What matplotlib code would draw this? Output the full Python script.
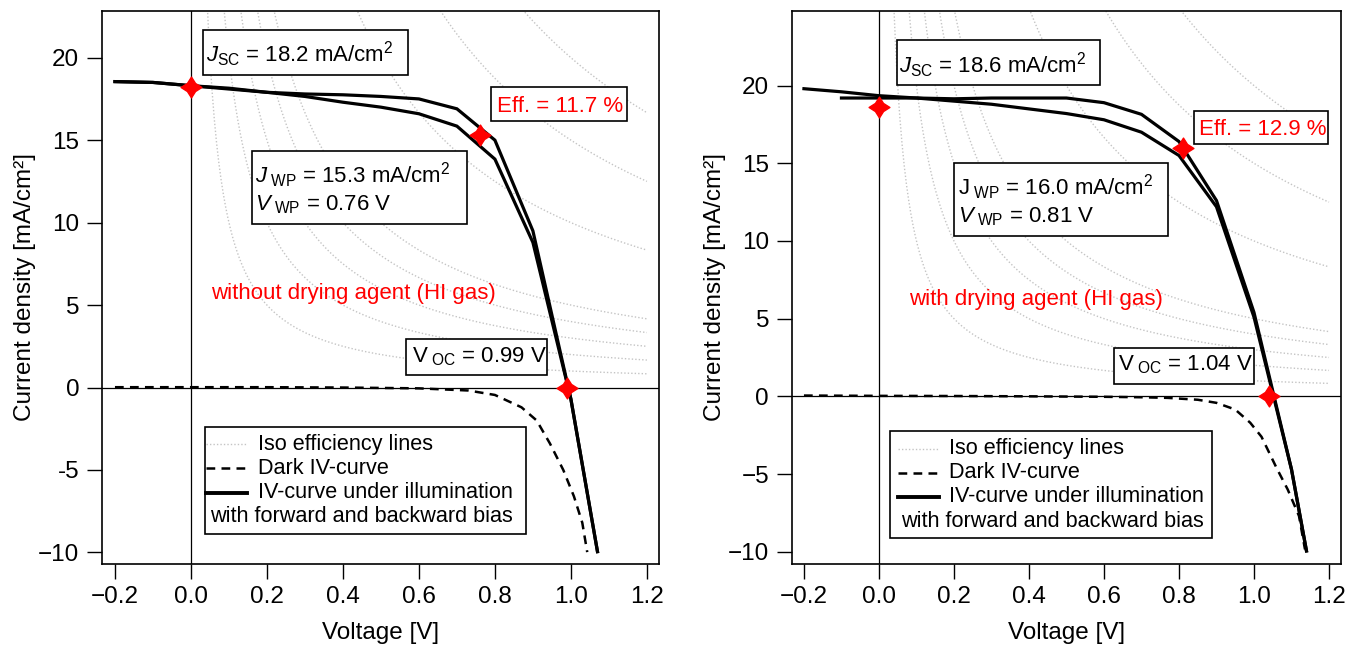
import matplotlib
matplotlib.use('Agg')
import matplotlib.pyplot as plt
from matplotlib.patches import Rectangle
from matplotlib.lines import Line2D
from matplotlib.path import Path
import numpy as np

plt.rcParams['font.family'] = ['Liberation Sans', 'DejaVu Sans']
plt.rcParams['mathtext.fontset'] = 'custom'
plt.rcParams['mathtext.rm'] = 'Liberation Sans'
plt.rcParams['mathtext.it'] = 'Liberation Sans:italic'
plt.rcParams['font.size'] = 16

# ---------------- data ----------------
ISO_EFF = [1, 2, 3, 4, 5, 10, 15, 20]  # iso efficiency levels [%] (P = J*V, 100 mW/cm2)

XTICKS = [-0.2, 0.0, 0.2, 0.4, 0.6, 0.8, 1.0, 1.2]
XTICKLABELS = ['\u22120.2', '0.0', '0.2', '0.4', '0.6', '0.8', '1.0', '1.2']
YTICKS = [-10, -5, 0, 5, 10, 15, 20]
YTICKLABELS_L = ['\u221210', '-5', '0', '5', '10', '15', '20']
YTICKLABELS_R = ['\u221210', '\u22125', '0', '5', '10', '15', '20']

# left: without drying agent
V_L = [-0.2, -0.1, 0.0, 0.1, 0.2, 0.3, 0.4, 0.5, 0.6, 0.7, 0.8, 0.9, 1.0, 1.07]
J_L_FWD = [18.55, 18.5, 18.3, 18.1, 17.9, 17.8, 17.75, 17.65, 17.5, 16.9, 15.0, 9.5, -0.7, -9.95]
J_L_BWD = [18.55, 18.5, 18.3, 18.15, 17.9, 17.65, 17.3, 17.0, 16.6, 15.85, 13.85, 8.8, -0.7, -9.95]
V_L_DARK = [-0.2, 0.0, 0.2, 0.4, 0.6, 0.73, 0.8, 0.87, 0.91, 0.945, 0.98, 1.008, 1.03, 1.043]
J_L_DARK = [0.02, 0.02, 0.02, 0.0, -0.05, -0.18, -0.45, -1.2, -2.0, -3.4, -5.0, -6.6, -8.2, -9.98]
MARK_L_V = [0.0, 0.76, 0.99]
MARK_L_J = [18.2, 15.3, 0.0]

# right: with drying agent
V_R_FWD = [-0.1, 0.0, 0.1, 0.2, 0.3, 0.4, 0.5, 0.6, 0.7, 0.8, 0.9, 1.0, 1.1, 1.14]
J_R_FWD = [19.2, 19.2, 19.2, 19.15, 19.2, 19.2, 19.2, 18.9, 18.15, 16.4, 12.6, 5.4, -4.7, -9.95]
V_R_BWD = [-0.2, -0.1, 0.0, 0.1, 0.2, 0.3, 0.4, 0.5, 0.6, 0.7, 0.8, 0.9, 1.0, 1.1, 1.14]
J_R_BWD = [19.8, 19.6, 19.35, 19.2, 19.0, 18.8, 18.5, 18.2, 17.8, 17.0, 15.5, 12.2, 5.1, -4.7, -9.95]
V_R_DARK = [-0.2, 0.0, 0.2, 0.4, 0.6, 0.7, 0.77, 0.85, 0.9, 0.95, 0.99, 1.02, 1.04, 1.06, 1.09, 1.12, 1.136]
J_R_DARK = [0.05, 0.03, 0.02, 0.0, -0.03, -0.06, -0.1, -0.22, -0.42, -0.85, -1.7, -2.6, -3.6, -4.6, -6.0, -7.7, -9.85]
MARK_R_V = [0.0, 0.81, 1.04]
MARK_R_J = [18.6, 16.0, 0.0]

STAR = Path.unit_regular_star(4, innerCircle=0.55)
ISO_STYLE = dict(color='#c4c4c4', lw=1.0, ls=(0, (1, 1.5)))
DARK_STYLE = dict(color='black', lw=1.8, ls=(0, (3.5, 2.5)))


def box(ax, x0, x1, y0, y1):
    ax.add_patch(Rectangle((x0, y0), x1 - x0, y1 - y0, facecolor='white',
                           edgecolor='black', linewidth=1.2, zorder=5))


def label(ax, x, y, s, color='black'):
    ax.text(x, y, s, color=color, ha='left', va='baseline', fontsize=16, zorder=6)


def legend(ax, bx, by, hx, tx, rows, tx4, y4):
    # hand-built legend: last line sits under the handle column
    box(ax, bx[0], bx[1], by[0], by[1])
    styles = [ISO_STYLE, DARK_STYLE, dict(color='black', lw=2.8, ls='-')]
    names = ['Iso efficiency lines', 'Dark IV-curve', 'IV-curve under illumination']
    for y, st, nm in zip(rows, styles, names):
        ax.add_line(Line2D(hx, [y, y], zorder=6, **st))
        ax.text(tx, y, nm, ha='left', va='center', fontsize=15.6, zorder=6)
    ax.text(tx4, y4, 'with forward and backward bias', ha='left', va='center',
            fontsize=15.6, zorder=6)


def panel(ax, xlim, ylim, yticklabels, curves, dark, marks):
    ax.set_xlim(*xlim); ax.set_ylim(*ylim)
    vv = np.linspace(0.02, 1.2, 400)
    for e in ISO_EFF:
        ax.plot(vv, e / vv, zorder=1, **ISO_STYLE)
    ax.axhline(0, color='black', lw=0.9, zorder=2)
    ax.axvline(0, color='black', lw=0.9, zorder=2)
    ax.plot(dark[0], dark[1], zorder=3, **DARK_STYLE)
    for v, j in curves:
        ax.plot(v, j, color='black', lw=2.3, zorder=3, solid_joinstyle='miter')
    ax.plot(marks[0], marks[1], ls='none', marker=STAR, ms=15, color='red',
            mec='red', zorder=7)
    ax.set_xticks(XTICKS); ax.set_xticklabels(XTICKLABELS)
    ax.set_yticks(YTICKS); ax.set_yticklabels(yticklabels)
    ax.tick_params(direction='out', length=10.5, width=1.0, pad=6, labelsize=17.5)
    for s in ax.spines.values():
        s.set_linewidth(1.2)
    ax.set_xlabel('Voltage [V]', fontsize=17.5, labelpad=10)
    ax.set_ylabel('Current density [mA/cm\u00b2]', fontsize=17.5, labelpad=1)


fig = plt.figure(figsize=(13.48, 6.48), dpi=100)
axl = fig.add_axes([0.0757, 0.1304, 0.4132, 0.8526])
axr = fig.add_axes([0.5875, 0.1304, 0.4073, 0.8526])

# ---- left panel ----
panel(axl, (-0.234, 1.232), (-10.67, 22.83), YTICKLABELS_L,
      [(V_L, J_L_FWD), (V_L, J_L_BWD)], (V_L_DARK, J_L_DARK), (MARK_L_V, MARK_L_J))
box(axl, 0.032, 0.571, 18.95, 21.7)
label(axl, 0.04, 19.75, r'$J_{\mathrm{SC}}$ = 18.2 mA/cm$^{2}$')
box(axl, 0.791, 1.147, 16.19, 18.2)
label(axl, 0.805, 16.7, 'Eff. = 11.7 %', color='red')
box(axl, 0.16, 0.727, 9.9, 14.36)
label(axl, 0.169, 12.4, r'$J_{\ \mathrm{WP}}$ = 15.3 mA/cm$^{2}$')
label(axl, 0.169, 10.73, r'$V_{\ \mathrm{WP}}$ = 0.76 V')
label(axl, 0.054, 5.34, 'without drying agent (HI gas)', color='red')
box(axl, 0.567, 0.938, 0.75, 2.96)
label(axl, 0.582, 1.5, r'V$_{\ \mathrm{OC}}$ = 0.99 V')
legend(axl, (0.036, 0.882), (-8.9, -2.4), [0.04, 0.148], 0.177,
       [-3.43, -4.89, -6.39], 0.049, -7.82)

# ---- right panel ----
panel(axr, (-0.232, 1.232), (-10.76, 24.8), YTICKLABELS_R,
      [(V_R_FWD, J_R_FWD), (V_R_BWD, J_R_BWD)], (V_R_DARK, J_R_DARK), (MARK_R_V, MARK_R_J))
box(axr, 0.0476, 0.589, 20.06, 22.93)
label(axr, 0.054, 20.8, r'$J_{\mathrm{SC}}$ = 18.6 mA/cm$^{2}$')
box(axr, 0.841, 1.198, 16.26, 18.34)
label(axr, 0.853, 16.8, 'Eff. = 12.9 %', color='red')
box(axr, 0.2, 0.77, 10.31, 15.01)
label(axr, 0.212, 12.97, r'J$_{\ \mathrm{WP}}$ = 16.0 mA/cm$^{2}$')
label(axr, 0.212, 11.2, r'$V_{\ \mathrm{WP}}$ = 0.81 V')
label(axr, 0.0815, 5.9, 'with drying agent (HI gas)', color='red')
box(axr, 0.626, 0.999, 0.8, 3.14)
label(axr, 0.638, 1.65, r'V$_{\ \mathrm{OC}}$ = 1.04 V')
legend(axr, (0.0306, 0.887), (-9.11, -2.26), [0.051, 0.159], 0.187,
       [-3.37, -4.92, -6.46], 0.059, -8.05)

fig.savefig('out.png', dpi=100, facecolor='white')
